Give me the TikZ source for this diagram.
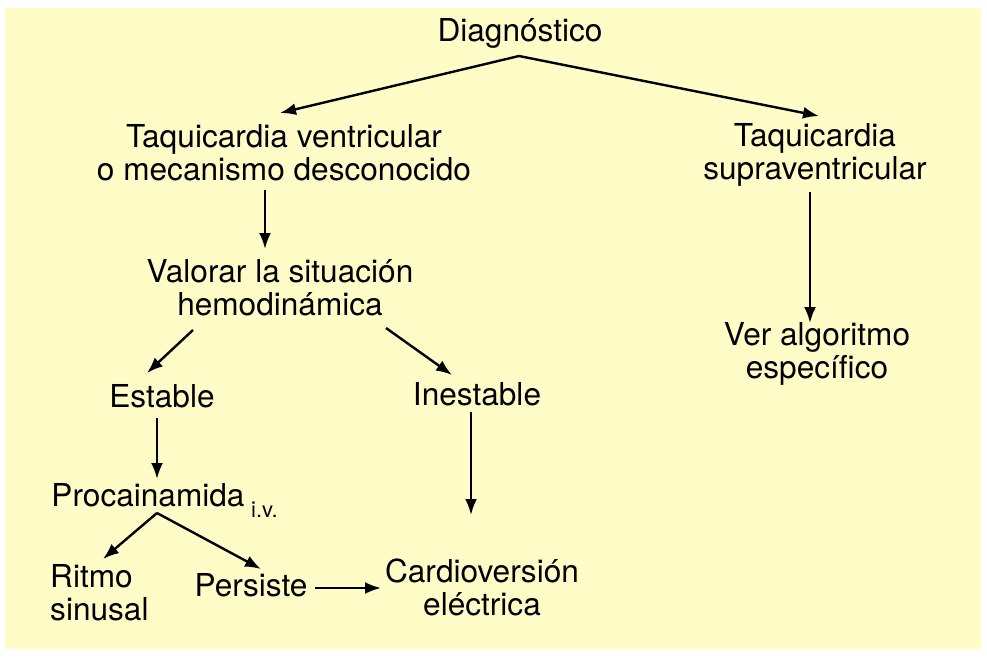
\documentclass[tikz,border=0pt]{standalone}
\usepackage{fontspec}
\setmainfont{TeX Gyre Heros}
\usetikzlibrary{arrows.meta}
\definecolor{bgyellow}{HTML}{FFFCC8}
\begin{document}
\begin{tikzpicture}[x=1pt,y=-1pt,
  lbl/.style={align=center,inner sep=0pt,font=\fontsize{31.6}{33}\selectfont},
  arr/.style={line width=2.4pt,-{Latex[length=16pt,width=12pt]}}]
\useasboundingbox (0,0) rectangle (987,656);
\fill[bgyellow] (5,8) rectangle (981,649);
\node[lbl] (diag) at (520,33) {Diagnóstico};
\node[lbl] (tv) at (284,153) {Taquicardia ventricular\\o mecanismo desconocido};
\node[lbl] (tsv) at (815,155) {Taquicardia\\supraventricular};
\node[lbl] (val) at (280,288) {Valorar la situación\\hemodinámica};
\node[lbl] (ver) at (817,354) {Ver algoritmo\\específico};
\node[lbl] (est) at (162,396) {Estable};
\node[lbl] (ine) at (477,394) {Inestable};
\node[lbl] (pro) at (148,495) {Procainamida};
\node[inner sep=0pt,font=\fontsize{22}{24}\selectfont,anchor=base west] (iv) at (251,517) {i.v.};
\node[lbl,align=left,anchor=west] (rit) at (50,593) {Ritmo\\sinusal};
\node[lbl] (per) at (251,585) {Persiste};
\node[lbl] (car) at (482,587) {Cardioversión\\eléctrica};
\coordinate (d0) at (519,56);
\coordinate (d1) at (280,113);
\coordinate (d2) at (819,116);
\coordinate (t0) at (265,190);
\coordinate (t1) at (265,249);
\coordinate (v0) at (193,330);
\coordinate (v1) at (147,373);
\coordinate (v2) at (386,328);
\coordinate (v3) at (452,375);
\coordinate (e0) at (157,418);
\coordinate (e1) at (157,479);
\coordinate (i0) at (471,412);
\coordinate (i1) at (471,515);
\coordinate (s0) at (810,192);
\coordinate (s1) at (810,323);
\coordinate (p0) at (157,513);
\coordinate (p1) at (103,559);
\coordinate (p2) at (261,569);
\coordinate (q0) at (315,588);
\coordinate (q1) at (381,588);
\draw[arr] (d0) -- (d1);
\draw[arr] (d0) -- (d2);
\draw[arr] (t0) -- (t1);
\draw[arr] (v0) -- (v1);
\draw[arr] (v2) -- (v3);
\draw[arr] (e0) -- (e1);
\draw[arr] (i0) -- (i1);
\draw[arr] (s0) -- (s1);
\draw[arr] (p0) -- (p1);
\draw[arr] (p0) -- (p2);
\draw[arr] (q0) -- (q1);
\end{tikzpicture}
\end{document}
